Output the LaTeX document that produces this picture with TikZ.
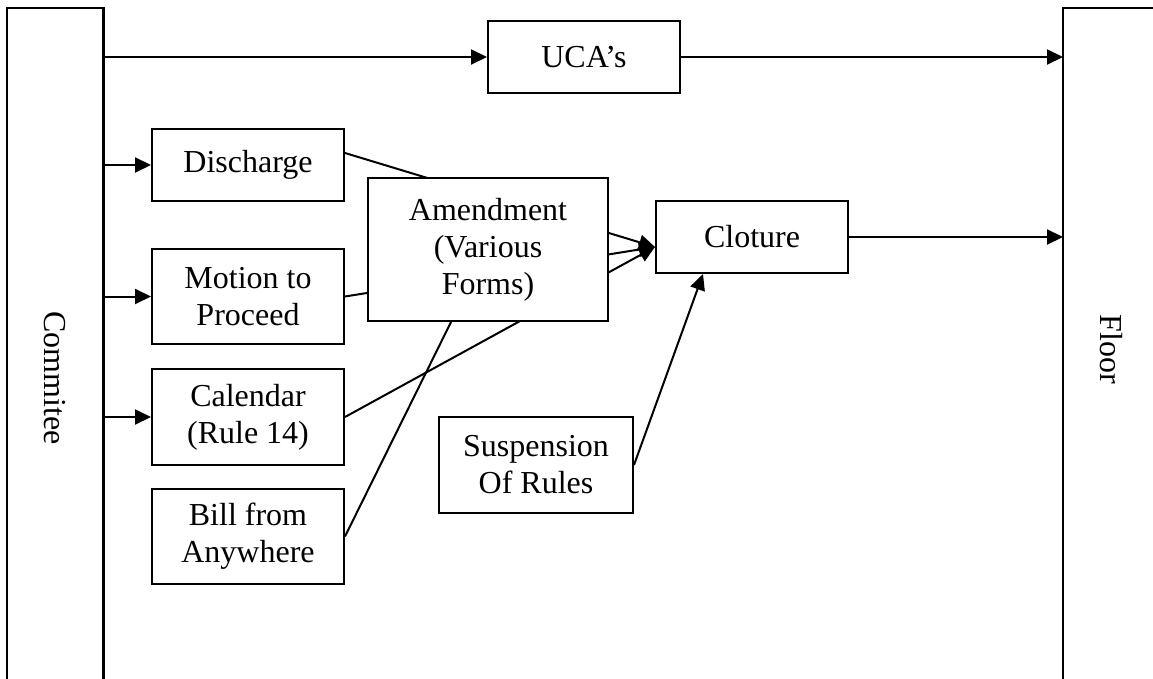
\documentclass[tikz,border=0pt]{standalone}
\usepackage{fontspec}
\setmainfont{Liberation Serif}
\usetikzlibrary{arrows.meta,backgrounds,calc}
\begin{document}
\begin{tikzpicture}[x=1pt,y=-1pt,
  font=\fontsize{32}{37}\selectfont,
  box/.style={draw,line width=2pt,fill=white,align=center,inner sep=0pt,anchor=north west,minimum width=192pt,minimum height=#1},
  box/.default=96pt,
  frame/.style={draw,line width=2.4pt},
  conn/.style={draw,line width=2pt},
  arr/.style={conn,-{Triangle[length=16pt,width=15pt]}}]
\useasboundingbox (0,0) rectangle (1153,679);
% side frames
\node[minimum width=96pt,minimum height=690pt,anchor=north west,inner sep=0pt] (com) at (7,8) {};
\draw[frame] (com.south west) -- (com.north west) -- (com.north east) -- (com.south east);
\node[rotate=-90] (comlbl) at (55,378) {Commitee};
\node[minimum width=120pt,minimum height=690pt,anchor=north west,inner sep=0pt] (flo) at (1063,8) {};
\draw[frame] (flo.south west) -- (flo.north west) -- (flo.north east);
\node[rotate=-90] (flolbl) at (1111,349) {Floor};
% boxes
\node[box=72pt] (uca) at (487,20) {UCA’s};
\node[box=72pt] (dis) at (151,128) {Discharge};
\node[box=95pt] (mot) at (151,248) {Motion to\\Proceed};
\node[box=96pt] (cal) at (151,368) {Calendar\\(Rule 14)};
\node[box=95pt] (bil) at (151,488) {Bill from\\Anywhere};
\node[box=72pt] (clo) at (655,200) {Cloture};
\node[box=96pt,minimum width=194pt] (sus) at (438,416) {Suspension\\Of Rules};
\node[box=143pt,minimum width=240pt] (amd) at (367,177) {Amendment\\(Various\\Forms)};
\coordinate (ct) at ([yshift=-10pt]clo.west);
% connectors behind the amendment box
\begin{pgfonlayer}{background}
\draw[arr] ([yshift=12pt]dis.east) -- (ct);
\draw[arr] (mot.east) -- (ct);
\draw[arr] (cal.east) -- (ct);
\end{pgfonlayer}
\draw[conn] (bil.east) -- ([xshift=84pt]amd.south west);
% other connectors
\draw[arr] (com.east |- uca.west) -- (uca.west);
\draw[arr] (uca.east) -- (flo.west |- uca.east);
\draw[arr] (com.east |- dis.west) -- (dis.west);
\draw[arr] (com.east |- mot.west) -- (mot.west);
\draw[arr] (com.east |- cal.west) -- (cal.west);
\draw[arr] (clo.east) -- (flo.west |- clo.east);
\draw[arr] (sus.east) -- ([xshift=48pt]clo.south west);
\end{tikzpicture}
\end{document}
